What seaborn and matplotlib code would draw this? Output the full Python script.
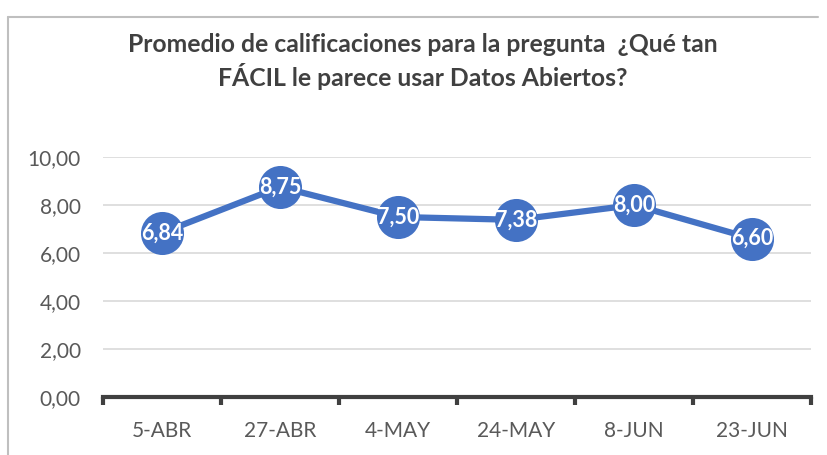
import matplotlib
matplotlib.use("Agg")
import matplotlib.pyplot as plt
import numpy as np
import pandas as pd
import seaborn as sns

fechas = ["5-ABR", "27-ABR", "4-MAY", "24-MAY", "8-JUN", "23-JUN"]
promedios = [6.84, 8.75, 7.50, 7.38, 8.00, 6.60]
y_ticks = [0, 2, 4, 6, 8, 10]
titulo = "Promedio de calificaciones para la pregunta  ¿Qué tan\nFÁCIL le parece usar Datos Abiertos?"

df = pd.DataFrame({"Fecha": fechas, "Promedio": promedios})

sns.set_style("white")
plt.rcParams["font.family"] = ["Lato", "DejaVu Sans"]

azul = "#4472C4"

fig = plt.figure(figsize=(8.27, 4.55), dpi=100)
ax = fig.add_axes([0.1245, 0.1275, 0.8562, 0.5275])

sns.lineplot(data=df, x="Fecha", y="Promedio", ax=ax, color=azul, linewidth=4.5,
             marker="o", markersize=31, markeredgewidth=0, sort=False)

for i, v in enumerate(promedios):
    ax.text(i, v, f"{v:.2f}".replace(".", ","), ha="center", va="center",
            color="white", fontsize=15.5, fontweight="bold", zorder=5)

ax.set_xlim(-0.5, len(fechas) - 0.5)
ax.set_ylim(0, 10)
ax.set_yticks(y_ticks)
ax.set_yticklabels([f"{t:.2f}".replace(".", ",") for t in y_ticks])
ax.set_xticks(range(len(fechas)))
ax.set_xticklabels(fechas)
ax.set_xticks(np.arange(-0.5, len(fechas), 1.0), minor=True)
ax.tick_params(axis="x", which="major", bottom=True, length=0, pad=17, labelsize=15, labelcolor="#595959")
ax.tick_params(axis="x", which="minor", bottom=True, length=6, width=3, color="#404040", direction="out")
ax.tick_params(axis="y", length=0, pad=16, labelsize=15, labelcolor="#595959")
ax.set_xlabel("")
ax.set_ylabel("")

ax.grid(axis="y", color="#D9D9D9", linewidth=1.2)
ax.set_axisbelow(True)
for s in ["top", "right", "left"]:
    ax.spines[s].set_visible(False)
ax.spines["bottom"].set_color("#404040")
ax.spines["bottom"].set_linewidth(3)
ax.spines["bottom"].set_zorder(1)

fig.text(0.511, 0.865, titulo, ha="center", va="center", fontsize=17.8,
         fontweight="bold", color="#404040", linespacing=1.3)

# marco del gráfico
fig.add_artist(plt.Line2D([8 / 827, 8 / 827], [0, 1 - 17 / 455], color="#BFBFBF", lw=1.5))
fig.add_artist(plt.Line2D([8 / 827, 818 / 827], [1 - 17 / 455, 1 - 17 / 455], color="#BFBFBF", lw=1.5))

fig.savefig("out.png", dpi=100)
